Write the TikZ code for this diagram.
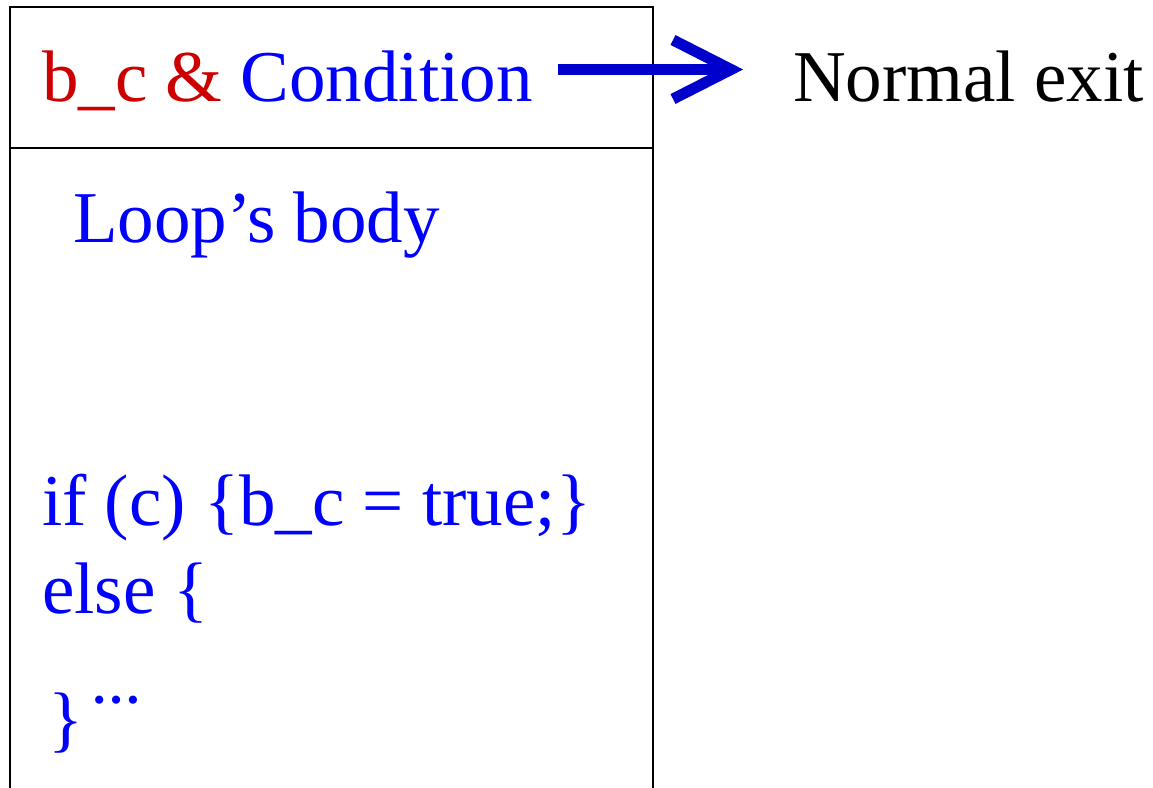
\documentclass[tikz,border=0pt]{standalone}
\usepackage{fontspec}
\setmainfont{Liberation Serif}
\definecolor{tblue}{RGB}{0,0,255}
\definecolor{ablue}{RGB}{0,0,204}
\definecolor{tred}{RGB}{204,0,0}
\tikzset{
  txt/.style={anchor=base west, inner sep=0pt, outer sep=0pt, font=\fontsize{73}{88}\selectfont},
  boxline/.style={line width=2pt, black},
  arrowline/.style={line width=11pt, ablue},
}
\begin{document}
\begin{tikzpicture}[x=1pt,y=-1pt]
\useasboundingbox (0,0) rectangle (1153,787);
\clip (0,0) rectangle (1153,787);
\fill[white] (0,0) rectangle (1153,787);
% box
\draw[boxline] (10,820) -- (10,7) -- (653,7) -- (653,820);
\draw[boxline] (10,148) -- (653,148);
% texts
\node[txt] (cond) at (42,101) {\textcolor{tred}{b\_c \&} \textcolor{tblue}{Condition}};
\node[txt] (exit) at (793,101) {Normal exit};
\node[txt, tblue] (body) at (73,242) {Loop’s body};
\node[txt, tblue] (if) at (42,525) {if (c) \{b\_c = true;\}};
\node[txt, tblue] (else) at (42,613) {else \{};
\node[txt, tblue] (close) at (48,743) {\}};
\node[anchor=base west, inner sep=0pt, tblue, font=\fontsize{50}{54}\bfseries\selectfont] (dots) at (91,703) {…};
% arrow
\coordinate (s) at (558,69.5);
\coordinate (tip) at (731,69.5);
\coordinate (armA) at (673,40);
\coordinate (armB) at (673,99);
\draw[arrowline, line cap=butt] (s) -- ([xshift=-4pt]tip);
\draw[arrowline, line cap=butt, line join=miter] (armA) -- (tip) -- (armB);
\end{tikzpicture}
\end{document}
